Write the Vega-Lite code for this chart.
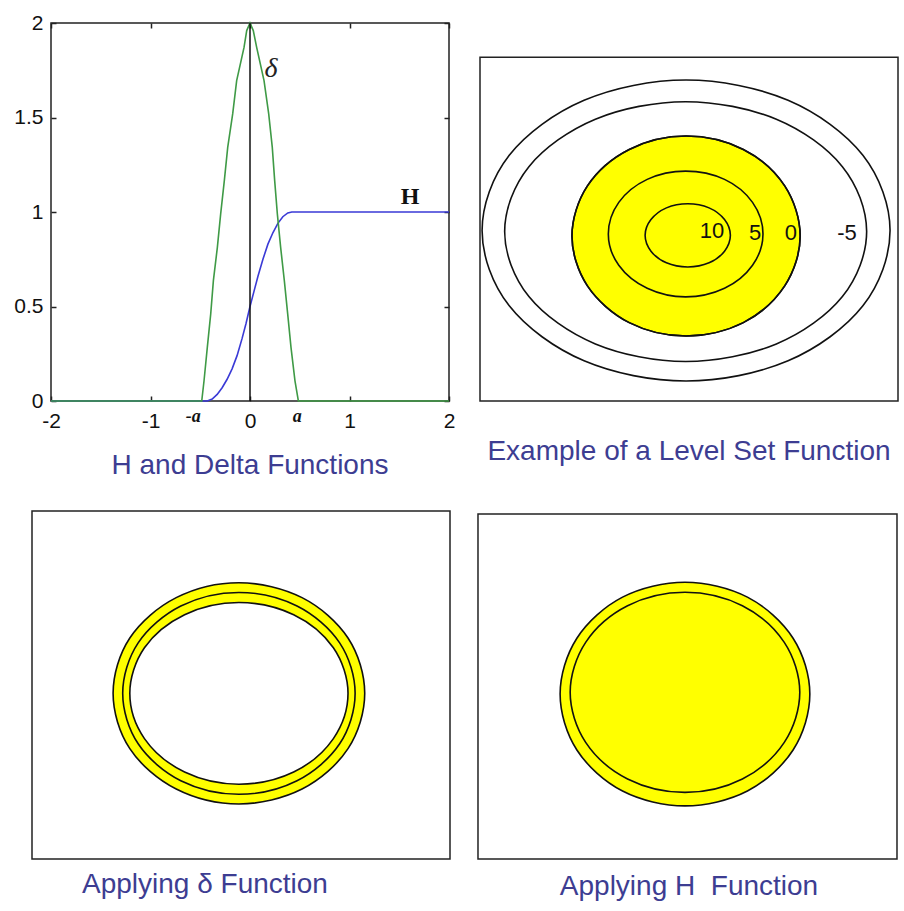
{
  "$schema": "https://vega.github.io/schema/vega-lite/v6.json",
  "padding": {"left": 13, "top": 11, "right": 0, "bottom": 0},
  "background": "white",
  "config": {
    "view": {"stroke": null},
    "axis": {"grid": false, "domain": false, "tickColor": "#222", "tickWidth": 1.5, "tickSize": -5, "labelFont": "Liberation Sans", "labelFontSize": 21, "labelColor": "#111", "labelFlush": false, "labelOverlap": false},
    "title": {"font": "Liberation Sans", "fontSize": 28, "fontWeight": "normal", "color": "#3d3d92", "orient": "bottom", "frame": "group"}
  },
  "datasets": {
    "heav": [
      {"x": -2, "y": 0}, {"x": -0.43, "y": 0}, {"x": -0.38, "y": 0.01}, {"x": -0.33, "y": 0.035}, {"x": -0.28, "y": 0.07},
      {"x": -0.23, "y": 0.115}, {"x": -0.18, "y": 0.17}, {"x": -0.13, "y": 0.24}, {"x": -0.08, "y": 0.33}, {"x": -0.04, "y": 0.41},
      {"x": 0, "y": 0.5}, {"x": 0.04, "y": 0.58}, {"x": 0.08, "y": 0.66}, {"x": 0.13, "y": 0.75}, {"x": 0.18, "y": 0.83},
      {"x": 0.23, "y": 0.89}, {"x": 0.28, "y": 0.94}, {"x": 0.33, "y": 0.975}, {"x": 0.38, "y": 0.995}, {"x": 0.42, "y": 1}, {"x": 2, "y": 1}
    ],
    "delta": [
      {"x": -2, "y": 0}, {"x": -0.485, "y": 0}, {"x": -0.462, "y": 0.107}, {"x": -0.429, "y": 0.284}, {"x": -0.395, "y": 0.46},
      {"x": -0.368, "y": 0.637}, {"x": -0.328, "y": 0.813}, {"x": -0.295, "y": 0.989}, {"x": -0.258, "y": 1.166}, {"x": -0.224, "y": 1.342},
      {"x": -0.174, "y": 1.519}, {"x": -0.134, "y": 1.695}, {"x": -0.06, "y": 1.871}, {"x": -0.033, "y": 1.96}, {"x": 0, "y": 2},
      {"x": 0.033, "y": 1.96}, {"x": 0.067, "y": 1.871}, {"x": 0.141, "y": 1.695}, {"x": 0.188, "y": 1.519}, {"x": 0.224, "y": 1.342},
      {"x": 0.248, "y": 1.166}, {"x": 0.275, "y": 0.989}, {"x": 0.308, "y": 0.813}, {"x": 0.345, "y": 0.637}, {"x": 0.379, "y": 0.46},
      {"x": 0.412, "y": 0.284}, {"x": 0.452, "y": 0.107}, {"x": 0.486, "y": 0}, {"x": 2, "y": 0}
    ],
    "c2": [
      {"k": -10, "i": 0, "x": 98.1, "y": 49.6}, {"k": -10, "i": 1, "x": 91.6, "y": 71.5}, {"k": -10, "i": 2, "x": 73.7, "y": 87.5}, {"k": -10, "i": 3, "x": 49.3, "y": 93.4},
      {"k": -10, "i": 4, "x": 24.9, "y": 87.5}, {"k": -10, "i": 5, "x": 7.0, "y": 71.5}, {"k": -10, "i": 6, "x": 0.5, "y": 49.6}, {"k": -10, "i": 7, "x": 7.0, "y": 27.7},
      {"k": -10, "i": 8, "x": 24.9, "y": 11.7}, {"k": -10, "i": 9, "x": 49.3, "y": 5.8}, {"k": -10, "i": 10, "x": 73.7, "y": 11.7}, {"k": -10, "i": 11, "x": 91.6, "y": 27.7},
      {"k": -5, "i": 0, "x": 92.5, "y": 49.3}, {"k": -5, "i": 1, "x": 86.7, "y": 68.2}, {"k": -5, "i": 2, "x": 70.9, "y": 82.0}, {"k": -5, "i": 3, "x": 49.2, "y": 87.1},
      {"k": -5, "i": 4, "x": 27.6, "y": 82.0}, {"k": -5, "i": 5, "x": 11.7, "y": 68.2}, {"k": -5, "i": 6, "x": 5.9, "y": 49.3}, {"k": -5, "i": 7, "x": 11.7, "y": 30.4},
      {"k": -5, "i": 8, "x": 27.6, "y": 16.6}, {"k": -5, "i": 9, "x": 49.2, "y": 11.5}, {"k": -5, "i": 10, "x": 70.9, "y": 16.6}, {"k": -5, "i": 11, "x": 86.7, "y": 30.4},
      {"k": 0, "i": 0, "x": 76.6, "y": 48.0}, {"k": 0, "i": 1, "x": 72.9, "y": 62.6}, {"k": 0, "i": 2, "x": 63.0, "y": 73.2}, {"k": 0, "i": 3, "x": 49.3, "y": 77.1},
      {"k": 0, "i": 4, "x": 35.7, "y": 73.2}, {"k": 0, "i": 5, "x": 25.7, "y": 62.6}, {"k": 0, "i": 6, "x": 22.0, "y": 48.0}, {"k": 0, "i": 7, "x": 25.7, "y": 33.5},
      {"k": 0, "i": 8, "x": 35.7, "y": 22.8}, {"k": 0, "i": 9, "x": 49.3, "y": 18.9}, {"k": 0, "i": 10, "x": 63.0, "y": 22.8}, {"k": 0, "i": 11, "x": 72.9, "y": 33.5},
      {"k": 5, "i": 0, "x": 67.7, "y": 48.6}, {"k": 5, "i": 1, "x": 65.2, "y": 57.8}, {"k": 5, "i": 2, "x": 58.5, "y": 64.5}, {"k": 5, "i": 3, "x": 49.2, "y": 66.9},
      {"k": 5, "i": 4, "x": 40.0, "y": 64.5}, {"k": 5, "i": 5, "x": 33.2, "y": 57.8}, {"k": 5, "i": 6, "x": 30.7, "y": 48.6}, {"k": 5, "i": 7, "x": 33.2, "y": 39.5},
      {"k": 5, "i": 8, "x": 40.0, "y": 32.8}, {"k": 5, "i": 9, "x": 49.2, "y": 30.3}, {"k": 5, "i": 10, "x": 58.5, "y": 32.8}, {"k": 5, "i": 11, "x": 65.2, "y": 39.5},
      {"k": 10, "i": 0, "x": 59.9, "y": 48.2}, {"k": 10, "i": 1, "x": 58.5, "y": 52.8}, {"k": 10, "i": 2, "x": 54.8, "y": 56.2}, {"k": 10, "i": 3, "x": 49.7, "y": 57.4},
      {"k": 10, "i": 4, "x": 44.6, "y": 56.2}, {"k": 10, "i": 5, "x": 40.9, "y": 52.8}, {"k": 10, "i": 6, "x": 39.5, "y": 48.2}, {"k": 10, "i": 7, "x": 40.9, "y": 43.6},
      {"k": 10, "i": 8, "x": 44.6, "y": 40.2}, {"k": 10, "i": 9, "x": 49.7, "y": 39.0}, {"k": 10, "i": 10, "x": 54.8, "y": 40.2}, {"k": 10, "i": 11, "x": 58.5, "y": 43.6}
    ],
    "c3": [
      {"k": "outer", "i": 0, "x": 79.6, "y": 47.6}, {"k": "outer", "i": 1, "x": 75.6, "y": 63.5}, {"k": "outer", "i": 2, "x": 64.6, "y": 75.1}, {"k": "outer", "i": 3, "x": 49.5, "y": 79.4},
      {"k": "outer", "i": 4, "x": 34.5, "y": 75.1}, {"k": "outer", "i": 5, "x": 23.4, "y": 63.5}, {"k": "outer", "i": 6, "x": 19.4, "y": 47.6}, {"k": "outer", "i": 7, "x": 23.4, "y": 31.7},
      {"k": "outer", "i": 8, "x": 34.5, "y": 20.1}, {"k": "outer", "i": 9, "x": 49.5, "y": 15.8}, {"k": "outer", "i": 10, "x": 64.6, "y": 20.1}, {"k": "outer", "i": 11, "x": 75.6, "y": 31.7},
      {"k": "mid", "i": 0, "x": 77.3, "y": 47.6}, {"k": "mid", "i": 1, "x": 73.6, "y": 62.1}, {"k": "mid", "i": 2, "x": 63.4, "y": 72.7}, {"k": "mid", "i": 3, "x": 49.5, "y": 76.6},
      {"k": "mid", "i": 4, "x": 35.6, "y": 72.7}, {"k": "mid", "i": 5, "x": 25.4, "y": 62.1}, {"k": "mid", "i": 6, "x": 21.7, "y": 47.6}, {"k": "mid", "i": 7, "x": 25.4, "y": 33.1},
      {"k": "mid", "i": 8, "x": 35.6, "y": 22.5}, {"k": "mid", "i": 9, "x": 49.5, "y": 18.6}, {"k": "mid", "i": 10, "x": 63.4, "y": 22.5}, {"k": "mid", "i": 11, "x": 73.6, "y": 33.1},
      {"k": "inner", "i": 0, "x": 75.6, "y": 47.6}, {"k": "inner", "i": 1, "x": 72.1, "y": 60.7}, {"k": "inner", "i": 2, "x": 62.6, "y": 70.2}, {"k": "inner", "i": 3, "x": 49.5, "y": 73.7},
      {"k": "inner", "i": 4, "x": 36.5, "y": 70.2}, {"k": "inner", "i": 5, "x": 26.9, "y": 60.7}, {"k": "inner", "i": 6, "x": 23.4, "y": 47.6}, {"k": "inner", "i": 7, "x": 26.9, "y": 34.6},
      {"k": "inner", "i": 8, "x": 36.5, "y": 25.0}, {"k": "inner", "i": 9, "x": 49.5, "y": 21.5}, {"k": "inner", "i": 10, "x": 62.6, "y": 25.0}, {"k": "inner", "i": 11, "x": 72.1, "y": 34.6}
    ],
    "c4": [
      {"k": "outer", "i": 0, "x": 79.2, "y": 47.8}, {"k": "outer", "i": 1, "x": 75.2, "y": 64.0}, {"k": "outer", "i": 2, "x": 64.3, "y": 75.9}, {"k": "outer", "i": 3, "x": 49.4, "y": 80.2},
      {"k": "outer", "i": 4, "x": 34.5, "y": 75.9}, {"k": "outer", "i": 5, "x": 23.6, "y": 64.0}, {"k": "outer", "i": 6, "x": 19.6, "y": 47.8}, {"k": "outer", "i": 7, "x": 23.6, "y": 31.6},
      {"k": "outer", "i": 8, "x": 34.5, "y": 19.7}, {"k": "outer", "i": 9, "x": 49.4, "y": 15.4}, {"k": "outer", "i": 10, "x": 64.3, "y": 19.7}, {"k": "outer", "i": 11, "x": 75.2, "y": 31.6},
      {"k": "inner", "i": 0, "x": 76.8, "y": 48.3}, {"k": "inner", "i": 1, "x": 73.1, "y": 62.8}, {"k": "inner", "i": 2, "x": 63.1, "y": 73.4}, {"k": "inner", "i": 3, "x": 49.4, "y": 77.3},
      {"k": "inner", "i": 4, "x": 35.7, "y": 73.4}, {"k": "inner", "i": 5, "x": 25.7, "y": 62.8}, {"k": "inner", "i": 6, "x": 22.0, "y": 48.3}, {"k": "inner", "i": 7, "x": 25.7, "y": 33.8},
      {"k": "inner", "i": 8, "x": 35.7, "y": 23.2}, {"k": "inner", "i": 9, "x": 49.4, "y": 19.3}, {"k": "inner", "i": 10, "x": 63.1, "y": 23.2}, {"k": "inner", "i": 11, "x": 73.1, "y": 33.8}
    ]
  },
  "columns": 2,
  "spacing": {"row": 110, "column": 31},
  "bounds": "flush",
  "concat": [
    {
      "width": 398, "height": 378,
      "view": {"stroke": "#222", "strokeWidth": 1.5},
      "title": {"text": "H and Delta Functions", "offset": 21},
      "resolve": {"axis": {"x": "independent", "y": "independent"}},
      "layer": [
        {
          "data": {"name": "heav"},
          "mark": {"type": "line", "color": "#3a3ad6", "strokeWidth": 1.6},
          "encoding": {
            "x": {"field": "x", "type": "quantitative", "scale": {"domain": [-2, 2]}, "axis": {"orient": "bottom", "values": [-2, -1, 0, 1, 2], "labelExpr": "'' + datum.value", "labelPadding": 14, "title": null}},
            "y": {"field": "y", "type": "quantitative", "scale": {"domain": [0, 2]}, "axis": {"orient": "left", "values": [0, 0.5, 1, 1.5, 2], "labelExpr": "'' + datum.value", "labelPadding": 13, "title": null}}
          }
        },
        {
          "data": {"name": "delta"},
          "mark": {"type": "line", "color": "#3f9a46", "strokeWidth": 1.6},
          "encoding": {
            "x": {"field": "x", "type": "quantitative", "scale": {"domain": [-2, 2]}, "axis": null},
            "y": {"field": "y", "type": "quantitative", "scale": {"domain": [0, 2]}, "axis": null}
          }
        },
        {
          "data": {"values": [{"x": 0, "y": 0, "y2": 2}]},
          "mark": {"type": "rule", "color": "#111", "strokeWidth": 1.5},
          "encoding": {
            "x": {"field": "x", "type": "quantitative", "scale": {"domain": [-2, 2]}, "axis": {"orient": "top", "values": [-2, -1, 0, 1, 2], "labels": false, "title": null}},
            "y": {"field": "y", "type": "quantitative", "scale": {"domain": [0, 2]}, "axis": {"orient": "right", "values": [0, 0.5, 1, 1.5, 2], "labels": false, "title": null}},
            "y2": {"field": "y2"}
          }
        },
        {
          "data": {"values": [{"x": 0.21, "y": 1.757, "t": "δ"}]},
          "mark": {"type": "text", "font": "Liberation Serif", "fontSize": 28, "fontStyle": "italic", "color": "#222"},
          "encoding": {
            "x": {"field": "x", "type": "quantitative", "scale": {"domain": [-2, 2]}, "axis": null},
            "y": {"field": "y", "type": "quantitative", "scale": {"domain": [0, 2]}, "axis": null},
            "text": {"field": "t"}
          }
        },
        {
          "data": {"values": [{"x": 1.608, "y": 1.079, "t": "H"}]},
          "mark": {"type": "text", "font": "Liberation Serif", "fontSize": 24, "fontWeight": "bold", "color": "#111"},
          "encoding": {
            "x": {"field": "x", "type": "quantitative", "scale": {"domain": [-2, 2]}, "axis": null},
            "y": {"field": "y", "type": "quantitative", "scale": {"domain": [0, 2]}, "axis": null},
            "text": {"field": "t"}
          }
        },
        {
          "data": {"values": [{"x": -0.57, "y": -0.085, "t": "-a"}, {"x": 0.475, "y": -0.085, "t": "a"}]},
          "mark": {"type": "text", "font": "Liberation Serif", "fontSize": 18, "fontWeight": "bold", "fontStyle": "italic", "color": "#111"},
          "encoding": {
            "x": {"field": "x", "type": "quantitative", "scale": {"domain": [-2, 2]}, "axis": null},
            "y": {"field": "y", "type": "quantitative", "scale": {"domain": [0, 2]}, "axis": null},
            "text": {"field": "t"}
          }
        }
      ]
    },
    {
      "width": 418, "height": 378,
      "title": {"text": "Example of a Level Set Function", "offset": 36},
      "layer": [
        {
          "data": {"values": [{"x": 0, "x2": 100, "y": 0, "y2": 100}]},
          "mark": {"type": "rect", "fill": null, "stroke": "#222", "strokeWidth": 1.5},
          "encoding": {
            "x": {"field": "x", "type": "quantitative", "scale": {"domain": [0, 100]}, "axis": null},
            "x2": {"field": "x2"},
            "y": {"field": "y", "type": "quantitative", "scale": {"domain": [0, 110]}, "axis": null},
            "y2": {"field": "y2"}
          }
        },
        {
          "data": {"name": "c2"},
          "transform": [{"filter": "datum.k === 0"}],
          "mark": {"type": "line", "interpolate": "cardinal-closed", "fill": "#ffff00", "stroke": "#111", "strokeWidth": 1.6},
          "encoding": {
            "x": {"field": "x", "type": "quantitative", "scale": {"domain": [0, 100]}, "axis": null},
            "y": {"field": "y", "type": "quantitative", "scale": {"domain": [0, 110]}, "axis": null},
            "order": {"field": "i", "type": "quantitative"}
          }
        },
        {
          "data": {"name": "c2"},
          "mark": {"type": "line", "interpolate": "cardinal-closed", "color": "#111", "strokeWidth": 1.6},
          "encoding": {
            "x": {"field": "x", "type": "quantitative", "scale": {"domain": [0, 100]}, "axis": null},
            "y": {"field": "y", "type": "quantitative", "scale": {"domain": [0, 110]}, "axis": null},
            "detail": {"field": "k", "type": "nominal"},
            "order": {"field": "i", "type": "quantitative"}
          }
        },
        {
          "data": {"values": [{"t": "10", "x": 55.5, "y": 49.5}, {"t": "5", "x": 65.8, "y": 48.9}, {"t": "0", "x": 74.4, "y": 48.9}, {"t": "-5", "x": 87.8, "y": 48.9}]},
          "mark": {"type": "text", "font": "Liberation Sans", "fontSize": 22, "color": "#111"},
          "encoding": {
            "x": {"field": "x", "type": "quantitative", "scale": {"domain": [0, 100]}, "axis": null},
            "y": {"field": "y", "type": "quantitative", "scale": {"domain": [0, 110]}, "axis": null},
            "text": {"field": "t"}
          }
        }
      ]
    },
    {
      "width": 398, "height": 348,
      "title": {"text": "Applying δ Function", "offset": 11, "anchor": "start", "dx": 31},
      "layer": [
        {
          "data": {"values": [{"x": 0, "x2": 100, "y": 0, "y2": 100}]},
          "mark": {"type": "rect", "fill": null, "stroke": "#222", "strokeWidth": 1.5},
          "encoding": {
            "x": {"field": "x", "type": "quantitative", "scale": {"domain": [4.545, 99.76]}, "axis": null},
            "x2": {"field": "x2"},
            "y": {"field": "y", "type": "quantitative", "scale": {"domain": [0, 100]}, "axis": null},
            "y2": {"field": "y2"}
          }
        },
        {
          "data": {"name": "c3"},
          "transform": [{"filter": "datum.k === 'outer'"}],
          "mark": {"type": "line", "interpolate": "cardinal-closed", "fill": "#ffff00", "stroke": "#111", "strokeWidth": 1.6},
          "encoding": {
            "x": {"field": "x", "type": "quantitative", "scale": {"domain": [4.545, 99.76]}, "axis": null},
            "y": {"field": "y", "type": "quantitative", "scale": {"domain": [0, 100]}, "axis": null},
            "order": {"field": "i", "type": "quantitative"}
          }
        },
        {
          "data": {"name": "c3"},
          "transform": [{"filter": "datum.k === 'inner'"}],
          "mark": {"type": "line", "interpolate": "cardinal-closed", "fill": "#ffffff", "stroke": "#111", "strokeWidth": 1.6},
          "encoding": {
            "x": {"field": "x", "type": "quantitative", "scale": {"domain": [4.545, 99.76]}, "axis": null},
            "y": {"field": "y", "type": "quantitative", "scale": {"domain": [0, 100]}, "axis": null},
            "order": {"field": "i", "type": "quantitative"}
          }
        },
        {
          "data": {"name": "c3"},
          "transform": [{"filter": "datum.k === 'mid'"}],
          "mark": {"type": "line", "interpolate": "cardinal-closed", "color": "#111", "strokeWidth": 1.6},
          "encoding": {
            "x": {"field": "x", "type": "quantitative", "scale": {"domain": [4.545, 99.76]}, "axis": null},
            "y": {"field": "y", "type": "quantitative", "scale": {"domain": [0, 100]}, "axis": null},
            "order": {"field": "i", "type": "quantitative"}
          }
        }
      ]
    },
    {
      "width": 418, "height": 348,
      "title": {"text": "Applying H\u00a0 Function", "offset": 13},
      "layer": [
        {
          "data": {"values": [{"x": 0, "x2": 100, "y": 0, "y2": 100}]},
          "mark": {"type": "rect", "fill": null, "stroke": "#222", "strokeWidth": 1.5},
          "encoding": {
            "x": {"field": "x", "type": "quantitative", "scale": {"domain": [0.48, 100.24]}, "axis": null},
            "x2": {"field": "x2"},
            "y": {"field": "y", "type": "quantitative", "scale": {"domain": [0, 100.87]}, "axis": null},
            "y2": {"field": "y2"}
          }
        },
        {
          "data": {"name": "c4"},
          "transform": [{"filter": "datum.k === 'outer'"}],
          "mark": {"type": "line", "interpolate": "cardinal-closed", "fill": "#ffff00", "stroke": "#111", "strokeWidth": 1.6},
          "encoding": {
            "x": {"field": "x", "type": "quantitative", "scale": {"domain": [0.48, 100.24]}, "axis": null},
            "y": {"field": "y", "type": "quantitative", "scale": {"domain": [0, 100.87]}, "axis": null},
            "order": {"field": "i", "type": "quantitative"}
          }
        },
        {
          "data": {"name": "c4"},
          "transform": [{"filter": "datum.k === 'inner'"}],
          "mark": {"type": "line", "interpolate": "cardinal-closed", "color": "#111", "strokeWidth": 1.6},
          "encoding": {
            "x": {"field": "x", "type": "quantitative", "scale": {"domain": [0.48, 100.24]}, "axis": null},
            "y": {"field": "y", "type": "quantitative", "scale": {"domain": [0, 100.87]}, "axis": null},
            "order": {"field": "i", "type": "quantitative"}
          }
        }
      ]
    }
  ]
}
